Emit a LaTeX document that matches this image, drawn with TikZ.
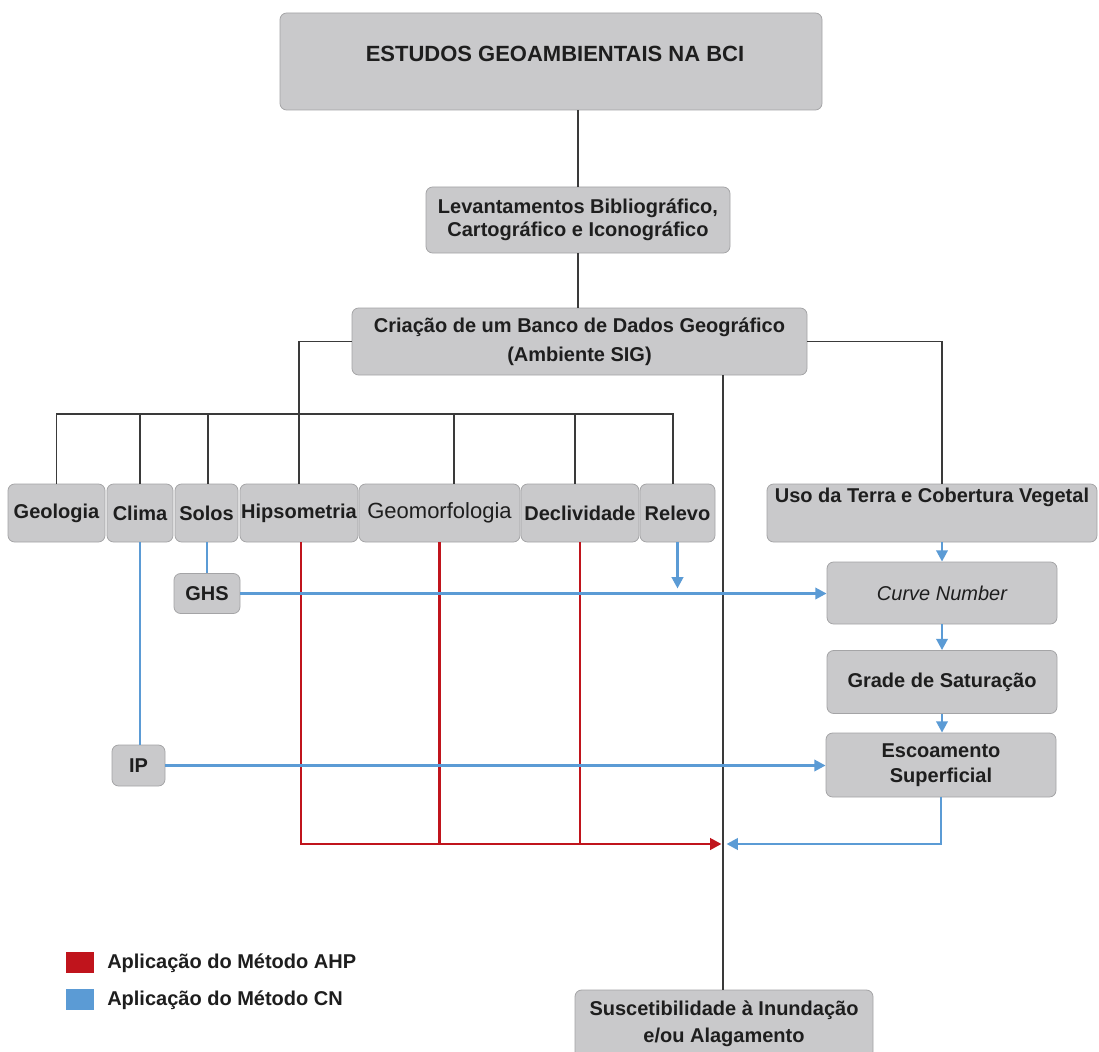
\documentclass[tikz,border=0pt]{standalone}
\usepackage{fontspec}
\setmainfont{Liberation Sans}
\usetikzlibrary{arrows.meta,calc}
\definecolor{boxfill}{HTML}{C9C9CB}
\definecolor{boxline}{HTML}{A4A4A6}
\definecolor{conncol}{HTML}{3A3A3A}
\definecolor{ahpred}{HTML}{C0141C}
\definecolor{cnblue}{HTML}{5B9BD5}
\definecolor{txt}{HTML}{1E1E1E}
\tikzset{
  bw/.style={minimum width=#1*0.75pt},
  bh/.style={minimum height=#1*0.75pt},
  box/.style={draw=boxline, fill=boxfill, rounded corners=5pt, line width=0.6pt,
    inner sep=0pt, align=center, text=txt, font=\bfseries\fontsize{15}{17.5}\selectfont},
  lbl/.style={inner sep=0pt, align=center, text=txt, font=\bfseries\fontsize{15}{17.5}\selectfont},
  conn/.style={draw=conncol, line width=1.3pt},
  ahp/.style={draw=ahpred, line width=2pt},
  cn/.style={draw=cnblue, line width=2pt},
  ahparrow/.style={ahp, -{Triangle[length=8.5pt,width=8.5pt]}},
  cnarrow/.style={cn, -{Triangle[length=8.5pt,width=8.5pt]}},
}
\begin{document}
\begin{tikzpicture}[x=0.75pt,y=-0.75pt]
\useasboundingbox (0,0) rectangle (1099,1052);
\fill[white] (0,0) rectangle (1099,1052);

% boxes
\node[box, bw=542, bh=97] (top) at (551,61.5) {};
\node[lbl, font=\bfseries\fontsize{16.5}{19}\selectfont] (toplbl) at (555,54) {ESTUDOS GEOAMBIENTAIS NA BCI};
\node[box, bw=304, bh=66] (lev) at (578,220) {Levantamentos Bibliográfico,\\Cartográfico e Iconográfico};
\node[box, bw=455, bh=67, font=\bfseries\fontsize{15}{22}\selectfont] (cri) at (579.5,341.5) {Criação de um Banco de Dados Geográfico\\(Ambiente SIG)};

\node[box, bw=97, bh=58] (geo) at (56.5,513) {Geologia};
\node[box, bw=66, bh=58] (cli) at (140,513) {Clima};
\node[box, bw=63, bh=58] (sol) at (206.5,513) {Solos};
\node[box, bw=118, bh=58] (hip) at (299,513) {Hipsometria};
\node[box, bw=161, bh=58, font=\mdseries\fontsize{16.5}{19}\selectfont] (gem) at (439.5,513) {Geomorfologia};
\node[box, bw=118, bh=58] (dec) at (580,513) {Declividade};
\node[box, bw=75, bh=58] (rel) at (677.5,513) {Relevo};
\node[box, bw=330, bh=58] (uso) at (932,513) {};
\node[lbl] (usolbl) at (932,497) {Uso da Terra e Cobertura Vegetal};

\node[box, bw=66, bh=40] (ghs) at (207,593.5) {GHS};
\node[box, bw=53, bh=41] (ip) at (138.5,765.5) {IP};

\node[box, bw=230, bh=62, font=\mdseries\itshape\fontsize{15}{17.5}\selectfont] (cn) at (942,593) {Curve Number};
\node[box, bw=230, bh=63] (grade) at (942,682) {Grade de Saturação};
\node[box, bw=230, bh=64, font=\bfseries\fontsize{15}{19}\selectfont] (esc) at (941,765) {Escoamento\\Superficial};

\node[box, bw=298, bh=68, font=\bfseries\fontsize{15}{20}\selectfont] (sus) at (724,1024) {Suscetibilidade à Inundação\\e/ou Alagamento};

% black connectors
\draw[conn] (lev.north |- top.south) -- (lev.north);
\draw[conn] (lev.south) -- (lev.south |- cri.north);
\draw[conn] (cri.west) -| (hip.north);
\draw[conn] (cri.east) -| (cn.north |- uso.north);
\coordinate (barL) at (geo.north |- 0,414);
\coordinate (barR) at ([xshift=-4.5*0.75pt]rel.north |- 0,414);
\draw[conn] (geo.north) -- (barL) -- (barR) -- ([xshift=-4.5*0.75pt]rel.north);
\draw[conn] (cli.north) -- (cli.north |- barL);
\draw[conn] ([xshift=1.5*0.75pt]sol.north) -- ([xshift=1.5*0.75pt]sol.north |- barL);
\draw[conn] ([xshift=14.5*0.75pt]gem.north) -- ([xshift=14.5*0.75pt]gem.north |- barL);
\draw[conn] ([xshift=-5*0.75pt]dec.north) -- ([xshift=-5*0.75pt]dec.north |- barL);
\draw[conn] ([xshift=-1*0.75pt]sus.north |- cri.south) -- ([xshift=-1*0.75pt]sus.north);

% junction on the long line
\coordinate (jn) at ([xshift=-1*0.75pt]sus.north |- 0,844);

% AHP (red)
\draw[ahparrow] ([xshift=2*0.75pt]hip.south) |- ([xshift=-1.5*0.75pt]jn);
\draw[ahp] (gem.south) -- (gem.south |- jn);
\draw[ahp] (dec.south) -- (dec.south |- jn);

% CN (blue)
\draw[cn] (cli.south) -- (ip.north -| cli.south);
\draw[cn] (ghs.north |- sol.south) -- (ghs.north);
\draw[cnarrow] (ghs.east) -- (ghs.east -| cn.west);
\draw[cnarrow] (ip.east) -- (ip.east -| esc.west);
\draw[cnarrow, shorten >=5*0.75pt] (rel.south) -- (rel.south |- ghs.east);
\draw[cnarrow] (cn.north |- uso.south) -- (cn.north);
\draw[cnarrow] (cn.south) -- (grade.north);
\draw[cnarrow] (grade.south) -- (grade.south |- esc.north);
\draw[cnarrow] (esc.south) |- ([xshift=3.5*0.75pt]jn);

% legend
\fill[ahpred] (66,952) rectangle (94,973) node[coordinate] (legA) {};
\fill[cnblue] (66,989) rectangle (94,1010) node[coordinate] (legB) {};
\node[lbl, anchor=west] (legAt) at (107,963) {Aplicação do Método AHP};
\node[lbl, anchor=west] (legBt) at (107,1000) {Aplicação do Método CN};
\end{tikzpicture}
\end{document}
